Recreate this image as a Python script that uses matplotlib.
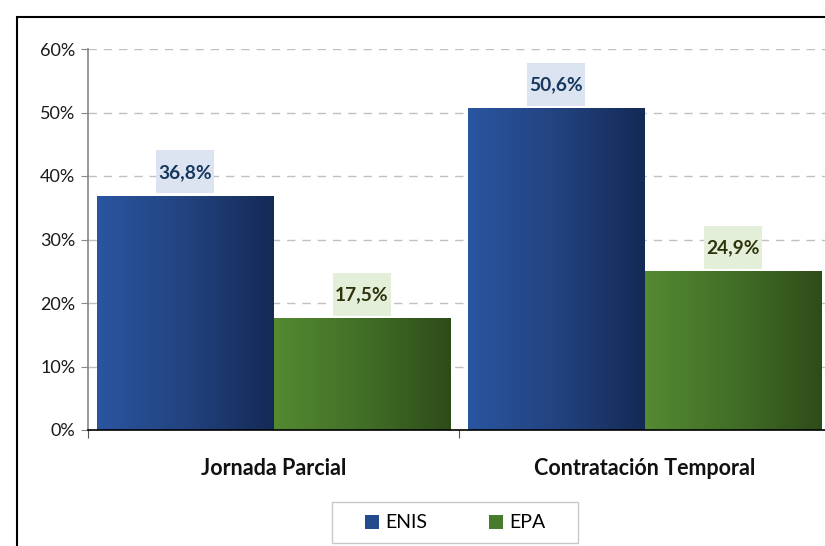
import numpy as np
import matplotlib.pyplot as plt
from matplotlib.colors import LinearSegmentedColormap
from matplotlib.patches import Rectangle, Patch

plt.rcParams['font.family'] = ['Lato', 'DejaVu Sans']

# Donnees
categorias = ['Jornada Parcial', 'Contratación Temporal']
series = ['ENIS', 'EPA']
enis = [36.8, 50.6]
epa = [17.5, 24.9]
etiquetas_y = ['0%', '10%', '20%', '30%', '40%', '50%', '60%']

# degrades (gauche clair -> droite fonce)
cmap_bleu = LinearSegmentedColormap.from_list('bleu', ['#2A55A0', '#22437F', '#142A56'])
cmap_vert = LinearSegmentedColormap.from_list('vert', ['#548A32', '#426F27', '#2E4C19'])
fond_bleu = '#DCE4F2'
fond_vert = '#E3EFD9'
texte_bleu = '#17375E'
texte_vert = '#2E330C'

fig = plt.figure(figsize=(8.25, 5.46), dpi=100)
ax = fig.add_axes([88/825, 116/546, 742/825, 381/546])

x = np.arange(len(categorias))
w = 0.477
b1 = ax.bar(x - w/2, enis, w, facecolor='none', edgecolor='none')
b2 = ax.bar(x + w/2, epa, w, facecolor='none', edgecolor='none')

grad = np.linspace(0, 1, 256).reshape(1, -1)
for barres, cm, fond, tc in [(b1, cmap_bleu, fond_bleu, texte_bleu),
                             (b2, cmap_vert, fond_vert, texte_vert)]:
    for r in barres:
        x0, h, bw = r.get_x(), r.get_height(), r.get_width()
        ax.imshow(grad, extent=[x0, x0 + bw, 0, h], aspect='auto', cmap=cm, zorder=2)
        cx = x0 + bw/2
        # boite de l'etiquette
        bw_box = 0.158
        ax.add_patch(Rectangle((cx - bw_box/2, h + 0.45), bw_box, 6.8,
                               facecolor=fond, edgecolor='none', zorder=3))
        ax.text(cx, h + 0.45 + 3.3, ('%.1f' % h).replace('.', ',') + '%',
                ha='center', va='center', fontsize=13.8, fontweight='bold',
                color=tc, zorder=4)

ax.set_xlim(-0.5, 1.5)
ax.set_ylim(0, 60)
ax.set_yticks(np.arange(0, 61, 10))
ax.set_yticklabels(etiquetas_y, fontsize=13, color='#1a1a1a')
ax.set_xticks([-0.5, 0.5, 1.5])
ax.set_xticklabels([])
ax.set_xticks(x, minor=True)
ax.set_xticklabels(categorias, minor=True, fontsize=15.5, fontweight='bold', color='#111111')
ax.tick_params(axis='x', which='minor', length=0, pad=20)
ax.tick_params(axis='x', which='major', length=6, color='#555555', direction='out')
ax.tick_params(axis='y', length=5, color='#868686', direction='out', pad=4)

ax.yaxis.grid(True, linestyle=(0, (6, 5)), color='#C0C0C0', linewidth=1)
ax.set_axisbelow(True)
for s in ['top', 'right']:
    ax.spines[s].set_visible(False)
ax.spines['left'].set_color('#868686')
ax.spines['left'].set_linewidth(1.2)
ax.spines['bottom'].set_color('#000000')
ax.spines['bottom'].set_linewidth(1.2)
ax.spines['bottom'].set_zorder(5)

# legende
poignees = [Patch(facecolor='#234A8C', edgecolor='none'),
            Patch(facecolor='#487A2B', edgecolor='none')]
leg = fig.legend(poignees, series, loc='center', bbox_to_anchor=(455/825, 23/546),
                 ncol=2, fontsize=14, frameon=False,
                 handlelength=0.72, handleheight=0.72, handletextpad=0.3,
                 columnspacing=3.2)
fig.patches.append(Rectangle((332/825, 3/546), 246/825, 41/546, transform=fig.transFigure,
                             fill=False, edgecolor='#C8C8C8', linewidth=1))

# cadre exterieur
fig.patches.append(Rectangle((17/825, -0.1), 1.2, 1.1 - 17/546, transform=fig.transFigure,
                             fill=False, edgecolor='black', linewidth=1.5))

fig.savefig('out.png', dpi=100)
